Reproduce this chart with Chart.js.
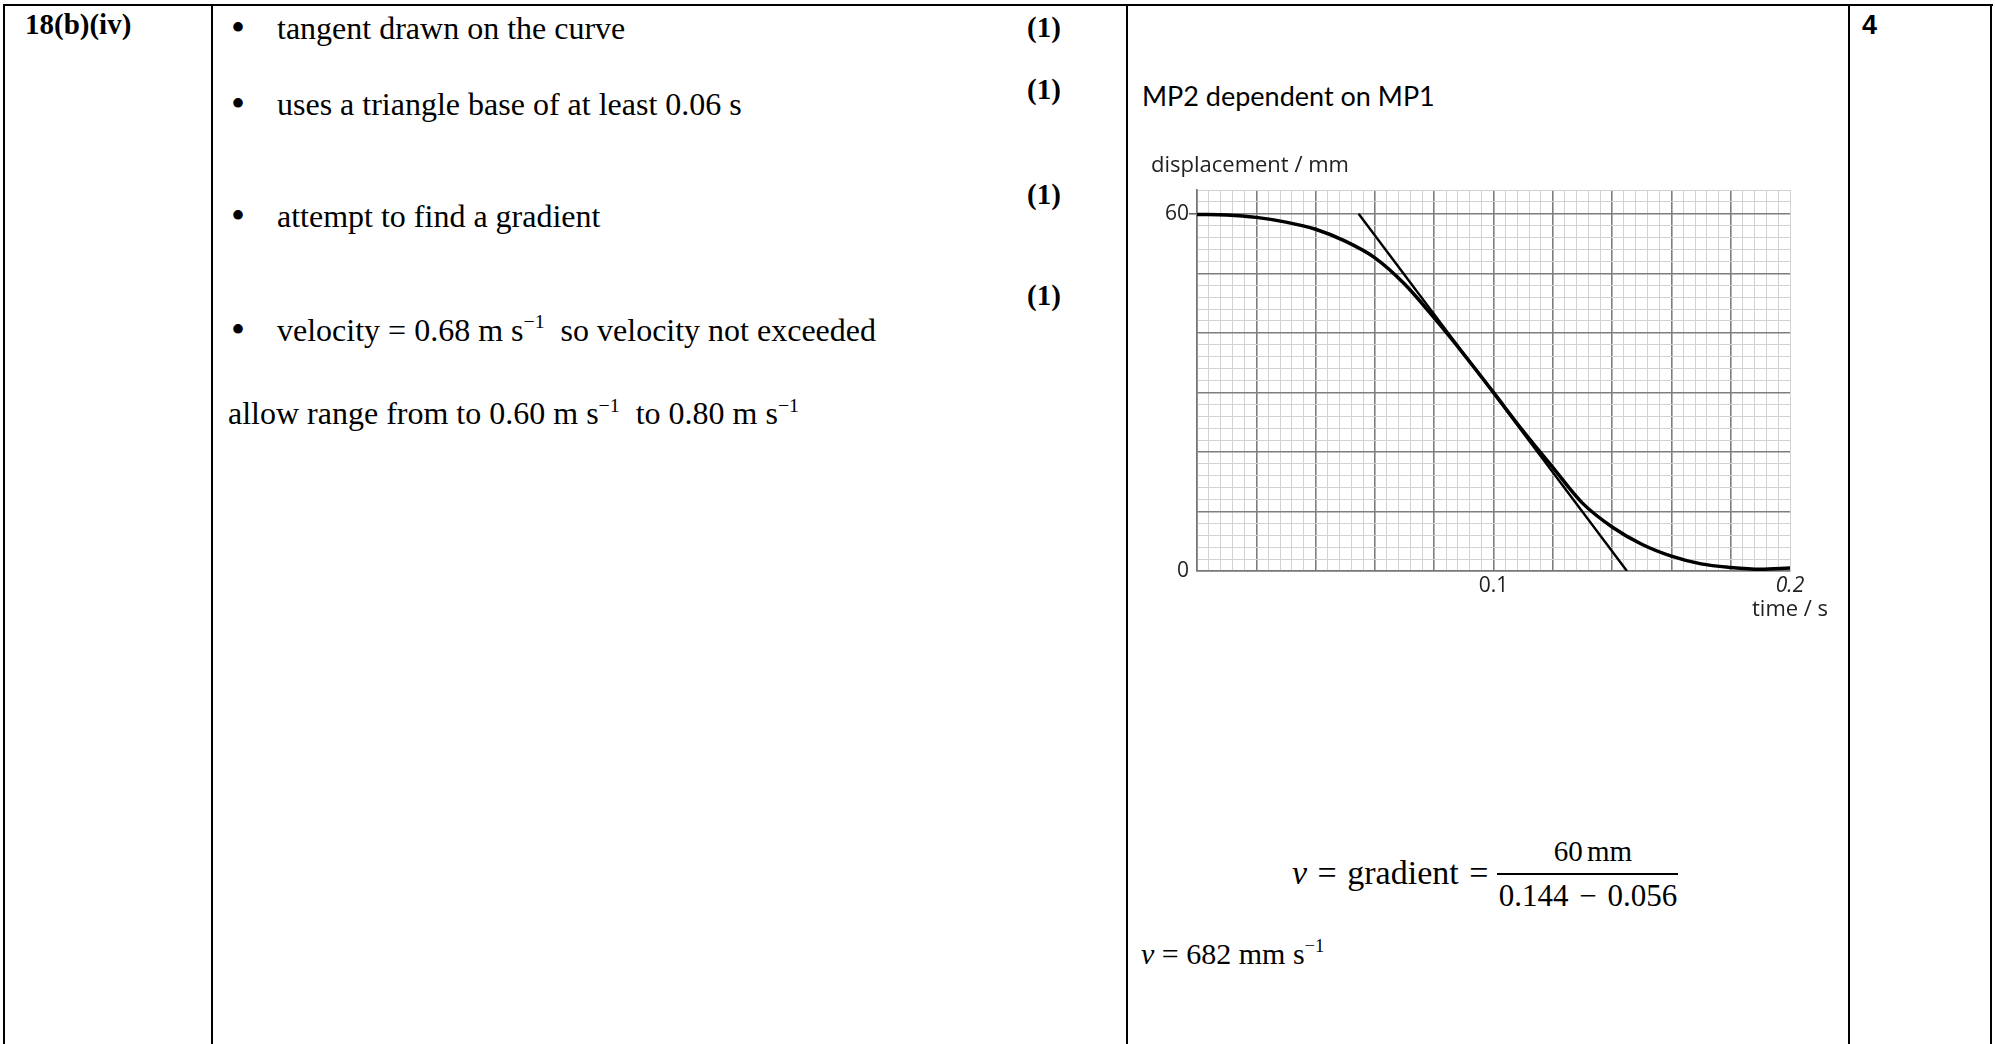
<!DOCTYPE html>
<html>
<head>
<meta charset="utf-8">
<script src="https://cdn.jsdelivr.net/npm/chart.js@4.4.1/dist/chart.umd.min.js"></script>
<style>
html,body{margin:0;padding:0;background:#fff;}
body{width:1995px;height:1044px;position:relative;overflow:hidden;color:#000;}
.t{position:absolute;white-space:nowrap;line-height:1;}
.rule{position:absolute;background:#000;}
sup{font-size:0.62em;vertical-align:baseline;position:relative;top:-0.62em;line-height:0;}
#chartBox{position:absolute;left:1140px;top:150px;width:700px;height:480px;}
</style>
</head>
<body>
<div id="chartBox"><canvas id="c" width="700" height="480"></canvas></div>
<script>
// ---------- data ----------
const curveTime = [0, 0.01, 0.02, 0.03, 0.04, 0.05, 0.06, 0.07, 0.08, 0.09, 0.10, 0.11, 0.12, 0.13, 0.14, 0.15, 0.16, 0.17, 0.18, 0.19, 0.20];
const curveDisp = [59.9, 59.8, 59.4, 58.6, 57.4, 55.4, 52.6, 48.2, 42.5, 36.4, 30.0, 23.5, 17.4, 11.4, 7.4, 4.5, 2.5, 1.2, 0.6, 0.3, 0.5];
const tangentTime = [0.0545, 0.145];
const tangentDisp = [60, 0];
const xTickLabels = [0.1, 0.2];
const yTickLabels = [0, 60];
const xRange = [0, 0.2];
const yRange = [0, 64];
const xMinorStep = 0.004, xMajorEvery = 5;
const yMinorStep = 2, yMajorEvery = 5;

// ---------- table text ----------
const FONTK = {serif:0.8375, open:0.888, lato:0.887, sans:0.8465};
const FAM = {serif:'"Liberation Serif","Times New Roman",serif', open:'"Open Sans",sans-serif', lato:'Lato,"Open Sans",sans-serif', sans:'"Liberation Sans",Arial,sans-serif'};
function put(html, x, base, size, fam, extra){
  const d = document.createElement('div');
  d.className = 't';
  d.innerHTML = html;
  d.style.fontFamily = FAM[fam];
  d.style.fontSize = size + 'px';
  d.style.left = x + 'px';
  d.style.top = (base - size*FONTK[fam]) + 'px';
  if (extra) Object.assign(d.style, extra);
  document.body.appendChild(d);
  return d;
}
function rule(x, y, w, h){
  const d = document.createElement('div');
  d.className = 'rule';
  Object.assign(d.style, {left:x+'px', top:y+'px', width:w+'px', height:h+'px'});
  document.body.appendChild(d);
}
// table rules
rule(3, 4, 1990, 2);
[3, 211, 1126, 1848, 1990].forEach(x => rule(x, 4, 2, 1040));

put('18(b)(iv)', 25, 34, 29, 'serif', {fontWeight:'bold'});
const bulletBase = [38.5, 114.5, 226.5, 340.5];
bulletBase.forEach(b => put('&bull;', 231, b + 3, 40, 'serif'));
put('tangent drawn on the curve', 277, 38.5, 32, 'serif');
put('uses a triangle base of at least 0.06 s', 277, 114.5, 32, 'serif');
put('attempt to find a gradient', 277, 226.5, 32, 'serif');
put('velocity = 0.68 m s<sup>&minus;1</sup>&nbsp; so velocity not exceeded', 277, 340.5, 32, 'serif');
put('allow range from to 0.60 m s<sup>&minus;1</sup>&nbsp; to 0.80 m s<sup>&minus;1</sup>', 228, 424, 32, 'serif');
[37.5, 99.5, 204.5, 305.5].forEach(b => put('(1)', 1027, b, 29, 'serif', {fontWeight:'bold'}));
put('MP2 dependent on MP1', 1142, 106, 27, 'lato');
put('4', 1862, 35, 27, 'sans', {fontWeight:'bold'});

// chart captions
put('displacement / mm', 1151, 172, 22, 'open', {color:'#222'});
put('time / s', 1752, 616, 22, 'open', {color:'#222'});

// worked answer
put('<i>v</i> = gradient =', 1292, 884, 34, 'serif', {wordSpacing:'2px'});
put('60 mm', 1593, 861, 29, 'serif', {transform:'translateX(-50%)', wordSpacing:'-3px'});
put('0.144 &minus; 0.056', 1588, 906, 31, 'serif', {transform:'translateX(-50%)', wordSpacing:'3px'});
rule(1497, 873, 181, 2);
put('<i>v</i> = 682 mm s<sup>&minus;1</sup>', 1141, 964, 30, 'serif');

// ---------- chart ----------
const near = (a, b) => Math.abs(a - b) < 1e-9;
const isXMajor = v => { const i = Math.round(v / xMinorStep); return i % xMajorEvery === 0 && v < xRange[1] - 1e-9; };
const isYMajor = v => { const i = Math.round(v / yMinorStep); return i % yMajorEvery === 0 && v < yRange[1] - 1e-9; };

new Chart(document.getElementById('c'), {
  type: 'scatter',
  data: {
    datasets: [
      {
        data: curveTime.map((t, i) => ({x: t, y: curveDisp[i]})),
        showLine: true, borderColor: '#000', borderWidth: 3.5,
        pointRadius: 0, cubicInterpolationMode: 'monotone', fill: false
      },
      {
        data: tangentTime.map((t, i) => ({x: t, y: tangentDisp[i]})),
        showLine: true, borderColor: '#000', borderWidth: 2.4,
        pointRadius: 0, fill: false
      }
    ]
  },
  options: {
    responsive: false, animation: false, devicePixelRatio: 1,
    layout: {padding: {top: 40, right: 50, left: 0, bottom: 0}},
    plugins: {legend: {display: false}, tooltip: {enabled: false}},
    scales: {
      x: {
        type: 'linear', min: xRange[0], max: xRange[1],
        afterFit(s){ s.height = 59; },
        ticks: {
          stepSize: xMinorStep, autoSkip: false, maxRotation: 0, padding: 2, color: '#222',
          font: ctx => ({family: '"Open Sans", sans-serif', size: 21,
                         style: (ctx.tick && near(ctx.tick.value, 0.2)) ? 'italic' : 'normal'}),
          callback: v => xTickLabels.some(l => near(l, v)) ? String(+v.toFixed(3)) : ''
        },
        grid: {
          drawTicks: false,
          color: ctx => isXMajor(ctx.tick.value) ? '#7e7e7e' : '#d2d2d2',
          lineWidth: ctx => isXMajor(ctx.tick.value) ? 1.6 : 1
        },
        border: {display: true, color: '#777', width: 1.6}
      },
      y: {
        type: 'linear', min: yRange[0], max: yRange[1],
        afterFit(s){ s.width = 57; },
        ticks: {
          stepSize: yMinorStep, autoSkip: false, padding: 0, color: '#222',
          font: {family: '"Open Sans", sans-serif', size: 21},
          callback: v => yTickLabels.some(l => near(l, v)) ? String(v) : ''
        },
        grid: {
          tickLength: 8,
          tickColor: ctx => near(ctx.tick.value, 60) ? '#666' : 'rgba(0,0,0,0)',
          color: ctx => isYMajor(ctx.tick.value) ? '#7e7e7e' : '#d2d2d2',
          lineWidth: ctx => isYMajor(ctx.tick.value) ? 1.6 : 1
        },
        border: {display: true, color: '#777', width: 1.6}
      }
    }
  }
});
</script>
</body>
</html>
